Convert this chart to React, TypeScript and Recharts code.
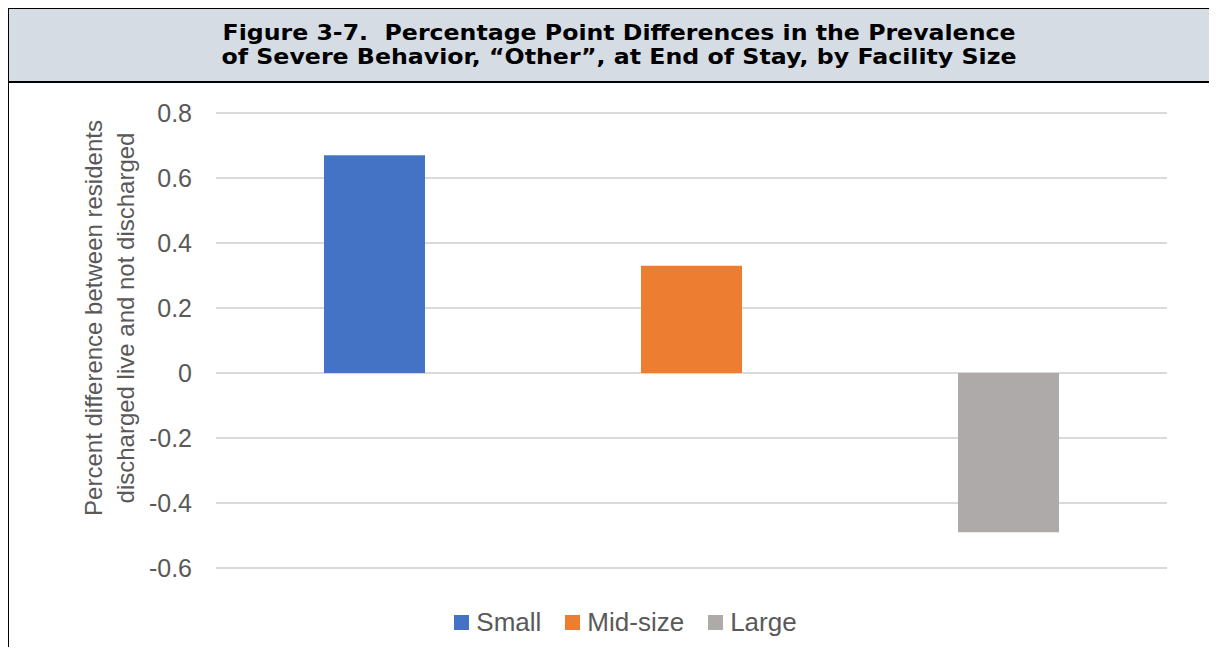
import React from "react";
import { BarChart, Bar, XAxis, YAxis, CartesianGrid, Legend } from "recharts";

// Series (facility size) and their percentage-point differences
const seriesNames = ["Small", "Mid-size", "Large"];
const seriesValues = [0.67, 0.33, -0.49];
const seriesColors = ["#4472C4", "#ED7D31", "#AEAAAA"];
const yTicks = [-0.6, -0.4, -0.2, 0, 0.2, 0.4, 0.6, 0.8];
const titleLines = [
  "Figure 3-7.  Percentage Point Differences in the Prevalence",
  "of Severe Behavior, \u201COther\u201D, at End of Stay, by Facility Size",
];
const titleWidths = [793, 795];
const yTitleLines = [
  "Percent difference between residents",
  "discharged live and not discharged",
];

// One category row holding each series value
const row: Record<string, string | number> = { category: "" };
seriesNames.forEach((name, i) => {
  row[name] = seriesValues[i];
});
const data = [row];

const W = 1217;
const H = 655;
const FONT = "'Liberation Sans', Arial, sans-serif";
const TEXT_GREY = "#595959";

const fmtTick = (v: number) => (v === 0 ? "0" : v.toFixed(1));

const YTitle = () => (
  <text
    transform="translate(109, 318) rotate(-90)"
    textAnchor="middle"
    fontFamily={FONT}
    fontSize={24}
    fill={TEXT_GREY}
  >
    {yTitleLines.map((line, i) => (
      <tspan key={i} x={0} y={-16 + i * 32} dominantBaseline="central">
        {line}
      </tspan>
    ))}
  </text>
);

const LegendContent = (props: any) => {
  const items = [...(props.payload || [])].sort(
    (a: any, b: any) => seriesNames.indexOf(a.value) - seriesNames.indexOf(b.value)
  );
  return (
    <div
      style={{
        height: 69,
        paddingTop: 40,
        paddingLeft: 84,
        boxSizing: "border-box",
        display: "flex",
        justifyContent: "center",
        alignItems: "flex-start",
        gap: 24,
        fontFamily: FONT,
        fontSize: 26,
        color: TEXT_GREY,
        lineHeight: "29px",
      }}
    >
      {items.map((it: any) => (
        <div key={it.value} style={{ display: "flex", alignItems: "center", gap: 7 }}>
          <span style={{ width: 15, height: 15, background: it.color, display: "inline-block" }} />
          <span>{it.value}</span>
        </div>
      ))}
    </div>
  );
};

export default function App() {
  return (
    <div style={{ position: "relative", width: W, height: H, margin: -8, background: "#fff", overflow: "hidden" }}>
      <svg width={W} height={H} style={{ position: "absolute", left: 0, top: 0 }}>
        <rect x={8} y={8} width={W + 10} height={74} fill="#D6DCE4" stroke="#000" strokeWidth={2} />
        <line x1={8} y1={82} x2={8} y2={H + 2} stroke="#000" strokeWidth={2} />
        <text
          textAnchor="middle"
          xmlSpace="preserve"
          style={{ whiteSpace: "pre" }}
          fontFamily="'DejaVu Sans', Verdana, sans-serif"
          fontWeight="bold"
          fontSize={21}
          fill="#000"
        >
          {titleLines.map((t, i) => (
            <tspan
              key={i}
              x={619}
              y={39.6 + i * 24.6}
              textLength={titleWidths[i]}
              lengthAdjust="spacingAndGlyphs"
            >
              {t}
            </tspan>
          ))}
        </text>
      </svg>
      <div style={{ position: "absolute", left: 0, top: 0 }}>
        <BarChart
          width={W}
          height={H}
          data={data}
          margin={{ top: 113, right: 50, bottom: 18, left: 0 }}
          barGap={216}
          barCategoryGap={108}
        >
          <CartesianGrid vertical={false} stroke="#D9D9D9" strokeWidth={2} />
          <XAxis dataKey="category" hide />
          <YAxis
            width={216}
            domain={[-0.6, 0.8]}
            ticks={yTicks}
            tickFormatter={fmtTick}
            axisLine={false}
            tickLine={false}
            tickSize={0}
            tickMargin={24}
            tick={{ fontFamily: FONT, fontSize: 25, fill: TEXT_GREY }}
            label={{ content: () => <YTitle /> }}
          />
          <Legend verticalAlign="bottom" content={<LegendContent />} />
          {seriesNames.map((name, i) => (
            <Bar key={name} dataKey={name} fill={seriesColors[i]} barSize={101} isAnimationActive={false} />
          ))}
        </BarChart>
      </div>
    </div>
  );
}
